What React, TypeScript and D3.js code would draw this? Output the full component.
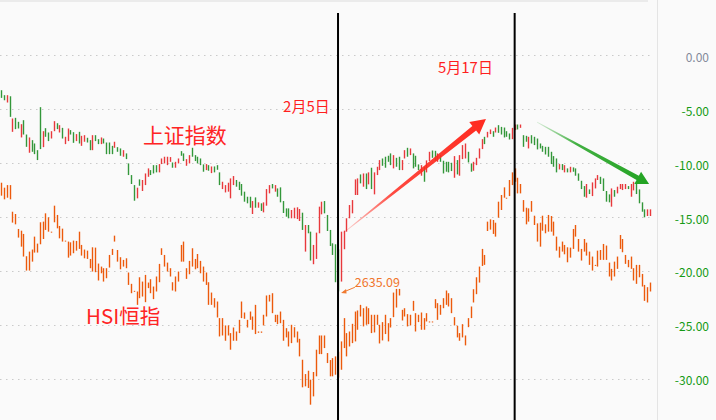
import React, { useRef, useEffect } from "react";
import * as d3 from "d3";

// 上证指数：每日最高 / 最低（相对区间起点的涨跌幅 %）
const shHigh: number[] = [
  -3.24, -3.7, -3.7, -3.8, -5.86, -5.8, -6.17, -6.39, -6.02, -7.35, -7.62, -7.87, -8.18, -8.8,
  -4.81, -7.04, -6.76, -7.16, -7.04, -6.11, -6.3, -6.48, -6.73, -7.56, -6.79, -6.94, -7.13, -7.31,
  -7.1, -7.47, -7.41, -7.65, -7.87, -7.41, -7.41, -7.78, -7.62, -7.72, -8.09, -8.09, -8.4, -8.02,
  -8.52, -8.64, -8.8, -9.1, -10.03, -11.11, -12.04, -12.28, -11.51, -11.57, -10.96, -10.49, -10.65,
  -10.19, -10.19, -10.09, -9.57, -9.41, -9.41, -9.44, -9.94, -9.88, -9.57, -8.89, -9.1, -9.63,
  -9.26, -8.58, -9.26, -9.41, -9.57, -10.12, -10.09, -10.19, -10.31, -10.31, -10.19, -10.86,
  -11.73, -12.04,
  -11.82, -11.42, -11.2, -11.57, -11.73, -11.94, -12.65, -13.12, -13.12, -13.52, -13.18, -13.64,
  -13.73, -13.64, -12.41, -12.04, -11.94, -12.04, -12.35, -12.25, -13.52, -14.2, -14.2, -14.35,
  -14.14, -14.1, -14.26, -14.6, -15.74, -15.74, -16.36, -17.59, -16.45, -14.04, -13.58, -13.52,
  -14.81, -16.2, -17.44, -17.53,
  -18.0,
  -16.36, -16.27, -15.12, -13.89, -13.43, -11.51, -11.42, -11.05, -10.96, -10.96, -10.86, -10.43,
  -10.86, -10.34, -9.72, -9.57, -9.41, -9.32, -9.1, -9.26, -9.51, -9.41, -9.72, -8.8, -8.58,
  -8.64, -9.1, -9.32, -10.12, -10.19, -10.34, -9.75, -8.95, -8.83, -8.86, -9.1, -9.26, -9.78,
  -9.88, -9.88,
  -9.97, -9.35, -9.72, -9.26, -8.33, -8.18, -8.95, -10.03, -9.88, -9.51, -8.64, -7.78, -7.56,
  -7.1, -6.88, -7.04, -6.7, -6.48, -6.64, -6.7, -7.04, -7.25, -6.73, -6.42, -6.42, -6.42, -7.41,
  -7.47, -7.56, -7.41, -7.56, -7.72, -8.18, -8.4, -8.49, -8.49,
  -8.95, -9.35, -9.57, -10.09, -10.09, -10.19, -10.49, -10.34, -10.4, -10.49, -10.96, -11.64,
  -12.13, -11.94, -12.44, -11.79, -11.42, -11.11, -11.27, -11.42, -12.59, -12.9, -12.35, -12.5,
  -12.19, -11.94, -11.94, -11.94, -12.13, -11.94, -11.73, -11.88, -12.44, -13.64, -14.29, -14.29,
  -14.29,
];
const shLow: number[] = [
  -3.95, -4.17, -4.38, -5.71, -7.1, -6.85, -6.79, -7.62, -7.35, -8.49, -9.04, -8.95, -9.17, -9.72,
  -8.7, -8.52, -7.56, -7.96, -7.72, -7.04, -6.85, -7.16, -7.72, -8.24, -7.96, -7.35, -8.12, -7.96,
  -8.18, -8.4, -8.02, -8.09, -8.8, -8.8, -7.96, -8.24, -8.24, -8.18, -9.17, -9.17, -9.17, -8.58,
  -8.95, -9.32, -9.41, -9.63, -11.11, -11.94, -13.49, -13.27, -12.1, -12.59, -12.04, -11.27,
  -11.11, -10.96, -10.86, -10.86, -10.09, -10.03, -10.19, -9.88, -10.43, -10.43, -10.03, -9.32,
  -9.81, -10.25, -10.03, -9.41, -9.81, -10.03, -10.19, -10.8, -10.65, -10.71, -10.93, -10.86,
  -10.62, -12.04, -12.41, -12.72,
  -12.65, -13.27, -12.04, -12.19, -12.5, -13.02, -13.58, -13.73, -14.14, -14.72, -14.14, -14.14,
  -14.44, -14.57, -13.95, -12.81, -12.35, -12.65, -13.12, -13.64, -14.63, -14.97, -15.12, -15.12,
  -15.12, -15.19, -15.37, -16.2, -18.21, -16.51, -19.04, -19.38, -18.89, -16.51, -14.75, -14.66,
  -16.3, -17.69, -18.52, -21.05,
  -21.9,
  -20.99, -17.99, -16.36, -15.12, -14.66, -12.96, -12.96, -11.88, -12.19, -12.41, -11.97, -12.41,
  -12.9, -11.11, -10.65, -10.25, -10.43, -9.88, -10.19, -10.49, -10.34, -10.65, -10.65, -9.57,
  -9.41, -9.26, -10.49, -10.34, -10.65, -11.17, -11.73, -10.86, -9.81, -9.51, -9.78, -9.88,
  -9.88, -10.96, -10.8, -10.86,
  -10.74, -11.36, -11.05, -11.17, -9.63, -9.57, -9.94, -10.8, -10.71, -10.19, -9.57, -8.7, -8.24,
  -7.62, -7.31, -7.56, -7.16, -7.19, -7.35, -7.62, -7.56, -7.81, -7.78, -6.94, -6.88, -6.73,
  -8.49, -8.02, -8.64, -8.18, -8.33, -8.73, -8.64, -8.95, -9.2, -9.41,
  -10.09, -10.34, -10.86, -10.59, -10.65, -10.86, -10.86, -10.86, -10.8, -11.17, -11.64, -12.41,
  -13.12, -13.21, -12.87, -13.06, -12.35, -11.57, -11.94, -12.59, -13.58, -13.64, -14.04, -13.12,
  -12.81, -12.41, -12.5, -12.41, -12.41, -13.12, -12.53, -12.87, -13.73, -14.51, -15.03, -14.91,
  -14.91,
];
// 1 = 收涨（红） 0 = 收跌（绿）
const shUp: number[] = [
  0, 0, 1, 0, 1, 0, 0, 1, 0, 0, 1, 0, 0, 0, 0, 1, 0, 0, 1, 1, 0, 1, 0, 1, 1, 0, 0, 1, 0, 1, 1, 0,
  0, 1, 0, 0, 1, 0, 0, 0, 0, 1,
  0, 0, 1, 0, 0, 0, 0, 1, 0, 1, 1, 1, 0, 0, 0, 1, 1, 1, 1, 1, 0, 1, 1, 0, 0, 1, 1, 0, 0, 0, 0, 0,
  1, 0, 1, 0, 0, 0, 1, 1,
  1, 1, 1, 0, 0, 0, 0, 0, 0, 1, 0, 1, 0, 1, 1, 1, 0, 1, 0, 0, 0, 0, 0, 1, 1, 1, 1, 0, 1, 0, 0, 1,
  1, 1, 1, 0, 0, 0, 0, 0,
  0,
  1, 1, 1, 1, 1, 1, 1, 0, 1, 0, 1, 0, 1, 1, 1, 0, 0, 0, 0, 1, 0, 0, 1, 1, 0, 1, 0, 0, 0, 1, 0, 1,
  1, 0, 0, 1, 0, 0, 0, 0,
  0, 1, 0, 1, 1, 1, 0, 0, 1, 1, 1, 1, 0, 1, 1, 0, 1, 0, 0, 0, 0, 0, 1, 1, 0, 1, 0, 0, 1, 0, 0, 0,
  0, 0, 0, 0,
  0, 0, 0, 1, 0, 1, 0, 1, 0, 0, 0, 0, 0, 1, 0, 1, 1, 1, 0, 0, 0, 0, 1, 0, 1, 1, 1, 1, 0, 1, 1, 0,
  0, 0, 0, 1, 1,
];

// 恒生指数：每日最高 / 最低（%）
const hsiHigh: number[] = [
  -11.82, -12.28, -12.04, -12.04, -14.51, -14.72, -16.11, -16.27, -16.57, -18.64, -18.21, -18.02,
  -16.82, -17.47, -15.49, -15.43, -14.66, -15.03, -16.36, -13.95, -14.81, -15.83, -16.08, -17.19,
  -17.28, -17.35, -17.19, -17.22, -16.36, -17.59, -18.02, -18.12, -18.89, -17.81, -17.84, -19.32,
  -19.6, -19.75, -19.75, -18.52, -17.96, -16.73,
  -18.06, -18.73, -18.98, -18.83, -20.15, -21.2, -21.85, -21.91, -20.59, -20.99, -20.37, -21.08,
  -20.77, -21.45, -20.52, -19.35, -17.9, -18.52, -19.23, -19.75, -21.05, -20.52, -20.06, -17.59,
  -17.28, -19.75, -19.07, -17.9, -18.89, -18.43, -19.07, -19.6, -20.15, -21.05, -22.01, -22.53,
  -22.84, -24.38, -24.38, -25.06,
  -25.06, -25.77, -25.25, -25.62, -24.54, -22.84, -23.86, -24.54, -23.77, -24.23, -23.15, -25.62,
  -25.62, -24.07, -22.28, -22.22, -22.07, -24.07, -24.07, -23.77, -24.54, -25.31, -25.62, -25.0,
  -25.22, -25.62, -26.3, -28.24, -29.57, -29.26, -30.09, -29.38, -27.31, -25.99, -25.99, -25.99,
  -27.62, -28.27, -28.09, -27.93,
  -27.5,
  -26.54, -24.38, -25.77, -25.62, -24.91, -23.77, -23.67, -23.15, -23.46, -23.3, -23.46, -24.07,
  -24.07, -24.07, -25.0, -24.75, -24.07, -24.85, -24.38, -22.01, -21.67, -21.67, -23.61, -23.46,
  -24.01, -24.07, -22.78, -23.92, -24.07, -23.86, -24.38, -23.92, -24.69, -24.69, -22.62, -22.99,
  -23.15, -22.53, -21.82, -22.07,
  -22.53, -24.29, -25.09, -25.77, -24.94, -25.99, -24.38, -23.3, -21.7, -20.59, -19.6, -17.96,
  -18.52, -15.43, -15.22, -15.28, -15.53, -13.58, -12.96, -12.25, -13.21, -11.57, -10.86, -10.49,
  -11.36, -11.94, -13.43, -14.14, -14.2, -13.52, -14.88, -15.59, -15.53, -14.88, -15.68, -14.81,
  -14.91, -15.43, -16.82, -17.75, -17.28, -17.59, -17.81, -17.84, -16.11, -15.74, -17.04, -17.96,
  -17.04, -17.38, -18.21, -18.67, -19.44, -18.12, -18.06, -17.5, -17.65, -19.23, -19.81, -19.14,
  -18.67, -16.67, -17.04, -18.52, -18.98, -18.67, -19.75, -19.44, -19.44, -20.28, -21.3, -21.51,
  -21.08,
];
const hsiLow: number[] = [
  -13.02, -13.36, -13.21, -13.36, -15.52, -15.68, -16.91, -17.75, -18.67, -19.97, -19.97, -19.14,
  -18.3, -18.3, -17.53, -17.04, -16.2, -16.36, -16.42, -15.49, -16.05, -16.98, -17.28, -17.28,
  -18.77, -18.58, -18.36, -18.12, -17.96, -18.58, -18.83, -18.89, -19.75, -20.06, -20.12, -20.89,
  -20.22, -20.99, -20.68, -19.69, -18.52, -17.28,
  -19.14, -19.85, -19.6, -19.75, -21.3, -22.07, -21.91, -23.15, -22.53, -22.38, -22.9, -21.6,
  -22.07, -22.62, -21.91, -21.05, -18.52, -19.6, -20.06, -20.52, -21.82, -21.91, -20.99, -19.14,
  -19.14, -20.74, -20.31, -19.6, -19.85, -19.75, -20.22, -20.99, -21.3, -23.15, -23.15, -23.4,
  -24.32, -26.08, -25.99, -26.48,
  -25.99, -27.31, -26.48, -26.48, -25.77, -24.38, -24.44, -25.25, -24.54, -25.46, -25.86, -25.74,
  -25.74, -25.06, -24.23, -22.84, -23.92, -24.75, -24.94, -24.85, -26.48, -26.17, -27.01, -26.7,
  -26.17, -26.64, -27.93, -30.8, -30.71, -30.86, -32.41, -31.64, -29.78, -27.72, -27.72, -27.16,
  -28.55, -29.78, -29.78, -29.63,
  -29.9,
  -29.17, -27.16, -27.93, -27.01, -26.7, -26.54, -25.46, -24.23, -25.15, -25.0, -24.94, -25.77,
  -25.71, -25.0, -26.73, -26.45, -25.86, -26.54, -25.25, -24.29, -23.4, -22.28, -24.6, -24.23,
  -25.15, -25.06, -23.7, -25.62, -24.75, -25.46, -25.46, -24.69, -24.75, -24.75, -23.46, -24.54,
  -24.07, -23.46, -23.15, -23.3,
  -23.92, -25.06, -26.17, -26.48, -26.17, -26.91, -25.22, -24.38, -22.93, -22.16, -21.08, -19.54,
  -19.44, -16.3, -16.17, -16.57, -16.82, -15.06, -14.35, -13.21, -13.3, -13.06, -12.04, -11.73,
  -12.81, -12.81, -14.51, -15.68, -15.43, -14.51, -15.74, -17.28, -17.75, -16.27, -16.51, -16.36,
  -16.36, -16.73, -18.12, -18.77, -18.21, -18.46, -19.2, -18.77, -17.96, -16.82, -18.21, -19.04,
  -18.21, -18.58, -19.44, -19.97, -19.54, -19.6, -18.98, -18.98, -18.98, -20.52, -20.89, -20.52,
  -19.81, -17.96, -18.27, -19.35, -19.66, -19.81, -20.89, -21.2, -20.59, -21.45, -22.78, -22.93,
  -21.91,
];

const yTicks = [0, -5, -10, -15, -20, -25, -30];
const markDays = [122, 186]; // 2月5日、5月17日

const App: React.FC = () => {
  const svgRef = useRef<SVGSVGElement>(null);

  useEffect(() => {
    if (!svgRef.current) return;

    const width = 716;
    const height = 420;
    const svg = d3.select(svgRef.current).attr("width", width).attr("height", height);
    svg.selectAll("*").remove();

    const n = shHigh.length;
    const x = d3.scaleLinear().domain([0, 235]).range([1.3, 649.9]);
    const y = d3.scaleLinear().domain([0, -30]).range([55.3, 378.7]);
    const font = "'Noto Sans CJK SC', 'Noto Sans', sans-serif";

    svg.append("rect").attr("width", width).attr("height", height).attr("fill", "#fafafa");
    svg.append("rect").attr("width", 648).attr("height", 2).attr("fill", "#ebebeb");

    // 网格线
    svg
      .append("g")
      .selectAll("line")
      .data(yTicks)
      .enter()
      .append("line")
      .attr("x1", 0)
      .attr("x2", 653)
      .attr("y1", (d) => Math.round(y(d)) + 0.5)
      .attr("y2", (d) => Math.round(y(d)) + 0.5)
      .attr("stroke", "#cacaca")
      .attr("stroke-dasharray", "1.5,4.5");

    // 右侧坐标轴
    svg
      .append("line")
      .attr("x1", 657.5)
      .attr("x2", 657.5)
      .attr("y1", 0)
      .attr("y2", height)
      .attr("stroke", "#e4e4e4");
    svg
      .append("g")
      .selectAll("text")
      .data(yTicks)
      .enter()
      .append("text")
      .attr("x", 709)
      .attr("y", (d) => y(d) + 6.5)
      .attr("text-anchor", "end")
      .attr("font-family", font)
      .attr("font-size", 12)
      .attr("fill", (d) => (d === 0 ? "#848a9a" : "#159a15"))
      .text((d) => d.toFixed(2));

    // 高低线
    const bars = (hi: number[], lo: number[], color: (i: number) => string) =>
      svg
        .append("g")
        .selectAll("line")
        .data(d3.range(Math.min(n, hi.length, lo.length)))
        .enter()
        .append("line")
        .attr("x1", (i) => Math.round(x(i)) + 0.5)
        .attr("x2", (i) => Math.round(x(i)) + 0.5)
        .attr("y1", (i) => y(hi[i]))
        .attr("y2", (i) => Math.max(y(lo[i]), y(hi[i]) + 1))
        .attr("stroke", color)
        .attr("stroke-width", 1.4);

    bars(shHigh, shLow, (i) => (shUp[i] ? "#e8393c" : "#33973a"));
    bars(hsiHigh, hsiLow, () => "#ec5a0c");

    // 日期竖线
    svg
      .append("g")
      .selectAll("line")
      .data(markDays)
      .enter()
      .append("line")
      .attr("x1", (d) => x(d))
      .attr("x2", (d) => x(d))
      .attr("y1", 13)
      .attr("y2", height)
      .attr("stroke", "#000")
      .attr("stroke-width", 2);

    // 箭头
    const defs = svg.append("defs");
    const arrows = [
      { id: "ar", from: [123.8, -16.5], to: [175.6, -5.9], color: "#ff2a1f", head: 15, half: 8, shaft: 3 },
      { id: "ag", from: [194.1, -6.2], to: [234.7, -11.95], color: "#22a322", head: 13, half: 7, shaft: 2.4 },
    ];
    arrows.forEach((a) => {
      const x0 = x(a.from[0]);
      const y0 = y(a.from[1]);
      const x1 = x(a.to[0]);
      const y1 = y(a.to[1]);
      const len = Math.hypot(x1 - x0, y1 - y0);
      const ux = (x1 - x0) / len;
      const uy = (y1 - y0) / len;
      const nx = -uy;
      const ny = ux;
      const bx = x1 - ux * a.head;
      const by = y1 - uy * a.head;
      const pts = [
        [x0 + nx * 0.3, y0 + ny * 0.3],
        [bx + nx * a.shaft, by + ny * a.shaft],
        [bx + nx * a.half, by + ny * a.half],
        [x1, y1],
        [bx - nx * a.half, by - ny * a.half],
        [bx - nx * a.shaft, by - ny * a.shaft],
        [x0 - nx * 0.3, y0 - ny * 0.3],
      ];
      const g = defs
        .append("linearGradient")
        .attr("id", a.id)
        .attr("gradientUnits", "userSpaceOnUse")
        .attr("x1", x0)
        .attr("y1", y0)
        .attr("x2", x1)
        .attr("y2", y1);
      g.append("stop").attr("offset", 0).attr("stop-color", a.color).attr("stop-opacity", 0.15);
      g.append("stop").attr("offset", 0.35).attr("stop-color", a.color).attr("stop-opacity", 0.85);
      g.append("stop").attr("offset", 1).attr("stop-color", a.color).attr("stop-opacity", 1);
      svg
        .append("polygon")
        .attr("points", pts.map((p) => p.join(",")).join(" "))
        .attr("fill", `url(#${a.id})`);
    });

    // 最低点标注 2635.09
    const lx0 = x(128.1);
    const ly0 = y(-21.52);
    const lx1 = x(123.1);
    const ly1 = y(-22.05);
    svg
      .append("line")
      .attr("x1", lx0)
      .attr("y1", ly0)
      .attr("x2", lx1 + 2)
      .attr("y2", ly1 - 0.8)
      .attr("stroke", "#f07a30")
      .attr("stroke-width", 1);
    svg
      .append("polygon")
      .attr("points", `${lx1},${ly1} ${lx1 + 5},${ly1 - 4} ${lx1 + 5.5},${ly1 + 0.5}`)
      .attr("fill", "#f07a30");

    const labels = [
      { text: "2月5日", i: 102.1, v: -5.26, size: 15, color: "#ff1f1f" },
      { text: "5月17日", i: 158.2, v: -1.6, size: 15, color: "#ff1f1f" },
      { text: "上证指数", i: 51.3, v: -8.18, size: 21, color: "#ff2424" },
      { text: "HSI恒指", i: 30.7, v: -24.93, size: 20.5, color: "#ff2424" },
      { text: "2635.09", i: 128.1, v: -21.5, size: 12.5, color: "#f0762d" },
    ];
    svg
      .append("g")
      .selectAll("text")
      .data(labels)
      .enter()
      .append("text")
      .attr("x", (d) => x(d.i))
      .attr("y", (d) => y(d.v))
      .attr("font-family", font)
      .attr("font-size", (d) => d.size)
      .attr("fill", (d) => d.color)
      .text((d) => d.text);
  }, []);

  return <svg ref={svgRef} style={{ position: "absolute", left: 0, top: 0 }}></svg>;
};

export default App;
